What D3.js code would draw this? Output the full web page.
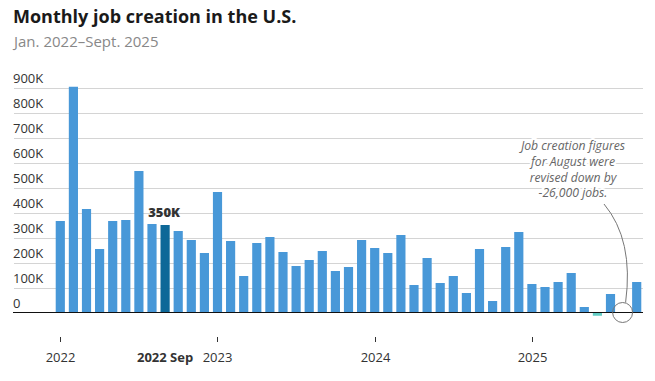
<!DOCTYPE html>
<html><head><meta charset="utf-8">
<script src="https://cdn.jsdelivr.net/npm/d3@7"></script>
<style>body{margin:0;background:#fff}svg{display:block}text{font-family:"Open Sans",Lato,sans-serif}</style>
</head><body><svg id="c" width="655" height="381"></svg>
<script>
const months = d3.range(45).map(i => new Date(2022, i, 1));
const values = [366,903,414,254,366,370,566,354,350,326,290,238,
                482,286,146,278,302,242,186,210,246,166,182,290,
                258,238,310,110,218,118,146,78,254,46,262,322,
                114,102,122,158,22,-13,74,0,122];
const yTicks = [0,100,200,300,400,500,600,700,800,900];
const yTickLabels = ["0","100K","200K","300K","400K","500K","600K","700K","800K","900K"];
const yearTicks = [0,12,24,36];
const yearLabels = ["2022","2023","2024","2025"];
const highlightIndex = 8;
const highlightLabel = "350K";
const highlightAxisLabel = "2022 Sep";
const noteLines = ["Job creation figures","for August were","revised down by","-26,000 jobs."];
const noteIndex = 43;

const svg = d3.select("#c");
const x = d3.scaleBand().domain(d3.range(values.length)).range([53.75,643.25]).paddingInner(0.3).paddingOuter(0.15);
const y = d3.scaleLinear().domain([0,900]).range([312.5,87.5]);

svg.append("text").attr("x",13).attr("y",23).attr("font-size",18).attr("font-weight",700).attr("fill","#1a1a1a").text("Monthly job creation in the U.S.");
svg.append("text").attr("x",14).attr("y",47).attr("font-size",15).attr("fill","#888").text("Jan. 2022\u2013Sept. 2025");

// grid
const g = svg.append("g");
yTicks.forEach((t,i)=>{
  if(t>0) g.append("line").attr("x1",14).attr("x2",643).attr("y1",Math.round(y(t))+0.5).attr("y2",Math.round(y(t))+0.5).attr("stroke","#d4d4d4").attr("stroke-width",1);
  g.append("text").attr("x",13).attr("y",y(t)-5).attr("font-size",13).attr("fill","#333").text(yTickLabels[i]);
});

// bars
svg.append("g").selectAll("rect").data(values).join("rect")
  .attr("x",(d,i)=>x(i)).attr("width",x.bandwidth())
  .attr("y",d=>y(Math.max(0,d))).attr("height",d=>Math.abs(y(d)-y(0)))
  .attr("fill",(d,i)=> i===highlightIndex ? "#0d6898" : (d<0 ? "#62cdc4" : "#4898d8"));

// baseline
svg.append("line").attr("x1",13).attr("x2",643).attr("y1",y(0)).attr("y2",y(0)).attr("stroke","#111").attr("stroke-width",1.2);

// highlight label
svg.append("text").attr("x",x(highlightIndex)+x.bandwidth()/2-1).attr("y",y(values[highlightIndex])-8).attr("text-anchor","middle")
  .attr("font-size",13).attr("font-weight",800).attr("fill","#333").text(highlightLabel);

// x axis
const ax = svg.append("g");
yearTicks.forEach((t,i)=>{
  const cx = Math.round(x(t)+x.bandwidth()/2)+0.5;
  ax.append("line").attr("x1",cx).attr("x2",cx).attr("y1",337).attr("y2",342).attr("stroke","#333");
  ax.append("text").attr("x",cx).attr("y",362).attr("text-anchor","middle").attr("font-size",13).attr("fill","#333").text(yearLabels[i]);
});
ax.append("text").attr("x",x(highlightIndex)+x.bandwidth()/2).attr("y",362).attr("text-anchor","middle").attr("font-size",13).attr("font-weight",700).attr("fill","#333").text(highlightAxisLabel);

// annotation
const cxN = x(noteIndex)+x.bandwidth()/2;
svg.append("circle").attr("cx",cxN-1).attr("cy",y(0)).attr("r",10).attr("fill","none").attr("stroke","#777").attr("stroke-width",1);
svg.append("path").attr("d",`M604,204 Q634,240 ${cxN+2},${y(0)-10}`).attr("fill","none").attr("stroke","#777").attr("stroke-width",1);
const nt = svg.append("g");
noteLines.forEach((l,i)=>{
  nt.append("text").attr("x",573).attr("y",150+i*15.8).attr("text-anchor","middle").attr("font-size",12.2).attr("font-style","italic")
    .attr("fill","#666").attr("stroke","#fff").attr("stroke-width",4).attr("paint-order","stroke").text(l);
});
</script></body></html>
